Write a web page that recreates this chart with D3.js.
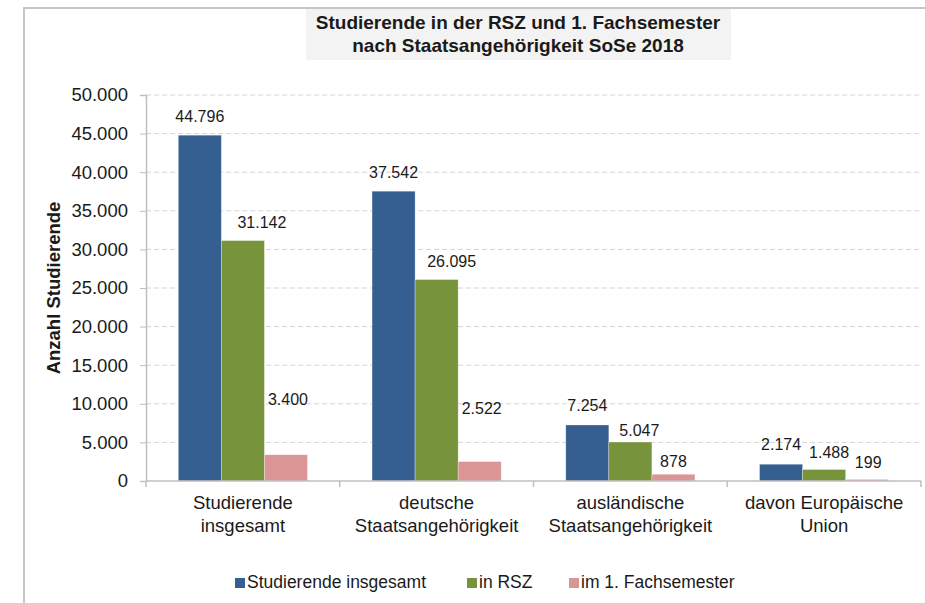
<!DOCTYPE html>
<html>
<head>
<meta charset="utf-8">
<script src="https://cdn.jsdelivr.net/npm/d3@7"></script>
<style>
  body { margin: 0; background: #fff; }
  svg { display: block; font-family: "Liberation Sans", Arial, sans-serif; }
</style>
</head>
<body>
<div id="chart"></div>
<script>
// data
const categories = [
  ["Studierende", "insgesamt"],
  ["deutsche", "Staatsangehörigkeit"],
  ["ausländische", "Staatsangehörigkeit"],
  ["davon Europäische", "Union"]
];
const seriesNames = ["Studierende insgesamt", "in RSZ", "im 1. Fachsemester"];
const insgesamt = [44796, 37542, 7254, 2174];
const inRSZ = [31142, 26095, 5047, 1488];
const fachsemester = [3400, 2522, 878, 199];
const yTicks = [0, 5000, 10000, 15000, 20000, 25000, 30000, 35000, 40000, 45000, 50000];
const titleLines = ["Studierende in der RSZ und 1. Fachsemester", "nach Staatsangehörigkeit SoSe 2018"];

// manual label nudges (px) as placed in the original, [dx, dy above bar top]
const labelNudge = [
  [[0, 13], [19, 13], [2, 50]],
  [[0, 13], [15, 13], [2, 48]],
  [[0, 14], [9, 6], [0, 7]],
  [[0, 14], [5, 12], [1, 11]]
];

const colors = ["#365f91", "#77933c", "#d99694"];
const width = 925, height = 603;
const margin = { top: 95, right: 4, bottom: 122, left: 146 };

const fmt = d3.formatLocale({ decimal: ",", thousands: ".", grouping: [3], currency: ["", "€"] }).format(",d");

const svg = d3.select("#chart").append("svg")
  .attr("width", width)
  .attr("height", height);

// outer frame (cropped)
svg.append("path")
  .attr("d", "M24,603 V8 H925")
  .attr("fill", "none")
  .attr("stroke", "#c6c6c6")
  .attr("stroke-width", 2);

// title box
svg.append("rect")
  .attr("x", 306).attr("y", 9)
  .attr("width", 425).attr("height", 51)
  .attr("fill", "#f2f3f2");

svg.append("g")
  .selectAll("text")
  .data(titleLines)
  .enter()
  .append("text")
  .attr("x", 518)
  .attr("y", (d, i) => 29 + i * 23)
  .attr("text-anchor", "middle")
  .style("font-family", "'Liberation Sans Narrow', 'Arial Narrow', 'Liberation Sans', sans-serif")
  .style("font-weight", "bold")
  .style("font-size", "19px")
  .attr("fill", "#1a1a1a")
  .text((d) => d);

const x0 = d3.scaleBand()
  .domain(d3.range(categories.length))
  .range([margin.left, width - margin.right])
  .padding(0);

const x1 = d3.scaleBand()
  .domain(d3.range(seriesNames.length))
  .range([0, x0.bandwidth()])
  .paddingInner(0)
  .paddingOuter(0.75);

const y = d3.scaleLinear()
  .domain([0, 50000])
  .range([height - margin.bottom, margin.top]);

// gridlines
svg.append("g")
  .selectAll("line")
  .data(yTicks.filter((d) => d > 0))
  .enter()
  .append("line")
  .attr("x1", margin.left)
  .attr("x2", width - margin.right)
  .attr("y1", (d) => y(d))
  .attr("y2", (d) => y(d))
  .attr("stroke", "#d4d4d4")
  .attr("stroke-width", 1)
  .attr("stroke-dasharray", "5,3");

// y axis
const yAxis = d3.axisLeft(y).tickValues(yTicks).tickFormat(fmt).tickSize(6).tickPadding(12);
const y_axis_g = svg.append("g")
  .attr("transform", `translate(${margin.left},0)`)
  .call(yAxis);
y_axis_g.select(".domain").attr("stroke", "#bfbfbf").attr("stroke-width", 1.5);
y_axis_g.selectAll(".tick line").attr("stroke", "#bfbfbf");
y_axis_g.selectAll("text")
  .style("font-size", "18.5px")
  .attr("fill", "#1a1a1a");

// y title
svg.append("text")
  .attr("transform", `translate(60,${(y(0) + y(50000)) / 2}) rotate(-90)`)
  .attr("text-anchor", "middle")
  .style("font-weight", "bold")
  .style("font-size", "18.5px")
  .attr("fill", "#1a1a1a")
  .text("Anzahl Studierende");

// bars
const seriesData = [insgesamt, inRSZ, fachsemester];
const groups = svg.append("g")
  .selectAll("g")
  .data(categories.map((c, i) => seriesData.map((s, j) => ({ cat: i, ser: j, value: s[i] }))))
  .enter()
  .append("g")
  .attr("transform", (d, i) => `translate(${x0(i)},0)`);

groups.selectAll("rect")
  .data((d) => d)
  .enter()
  .append("rect")
  .attr("x", (d) => x1(d.ser))
  .attr("y", (d) => y(d.value))
  .attr("width", x1.bandwidth())
  .attr("height", (d) => y(0) - y(d.value))
  .attr("fill", (d) => colors[d.ser])
  .attr("stroke", "#ffffff")
  .attr("stroke-opacity", 0.5)
  .attr("stroke-width", 0.6);

groups.selectAll("text")
  .data((d) => d)
  .enter()
  .append("text")
  .attr("x", (d) => x1(d.ser) + x1.bandwidth() / 2 + labelNudge[d.cat][d.ser][0])
  .attr("y", (d) => y(d.value) - labelNudge[d.cat][d.ser][1])
  .attr("text-anchor", "middle")
  .style("font-size", "16px")
  .attr("fill", "#1a1a1a")
  .text((d) => fmt(d.value));

// x axis
const xb = svg.append("g");
xb.append("line")
  .attr("x1", margin.left).attr("x2", width - margin.right)
  .attr("y1", y(0)).attr("y2", y(0))
  .attr("stroke", "#bfbfbf").attr("stroke-width", 1.5);
xb.selectAll(".xt")
  .data(d3.range(categories.length + 1))
  .enter()
  .append("line")
  .attr("class", "xt")
  .attr("x1", (d) => margin.left + d * x0.step())
  .attr("x2", (d) => margin.left + d * x0.step())
  .attr("y1", y(0)).attr("y2", y(0) + 6)
  .attr("stroke", "#bfbfbf").attr("stroke-width", 1.5);

xb.selectAll(".cat")
  .data(categories)
  .enter()
  .append("text")
  .attr("class", "cat")
  .attr("x", (d, i) => x0(i) + x0.bandwidth() / 2)
  .attr("y", 509)
  .attr("text-anchor", "middle")
  .style("font-size", "18.5px")
  .attr("fill", "#1a1a1a")
  .selectAll("tspan")
  .data((d) => d)
  .enter()
  .append("tspan")
  .attr("x", function () { return d3.select(this.parentNode).attr("x"); })
  .attr("dy", (d, i) => (i === 0 ? 0 : 23))
  .text((d) => d);

// legend
const legendX = [235, 467, 569];
const legend = svg.append("g")
  .selectAll("g")
  .data(seriesNames)
  .enter()
  .append("g")
  .attr("transform", (d, i) => `translate(${legendX[i]},578)`);
legend.append("rect")
  .attr("width", 10).attr("height", 10)
  .attr("fill", (d, i) => colors[i]);
legend.append("text")
  .attr("x", 12).attr("y", 10)
  .style("font-size", "17.5px")
  .attr("fill", "#1a1a1a")
  .text((d) => d);
</script>
</body>
</html>
